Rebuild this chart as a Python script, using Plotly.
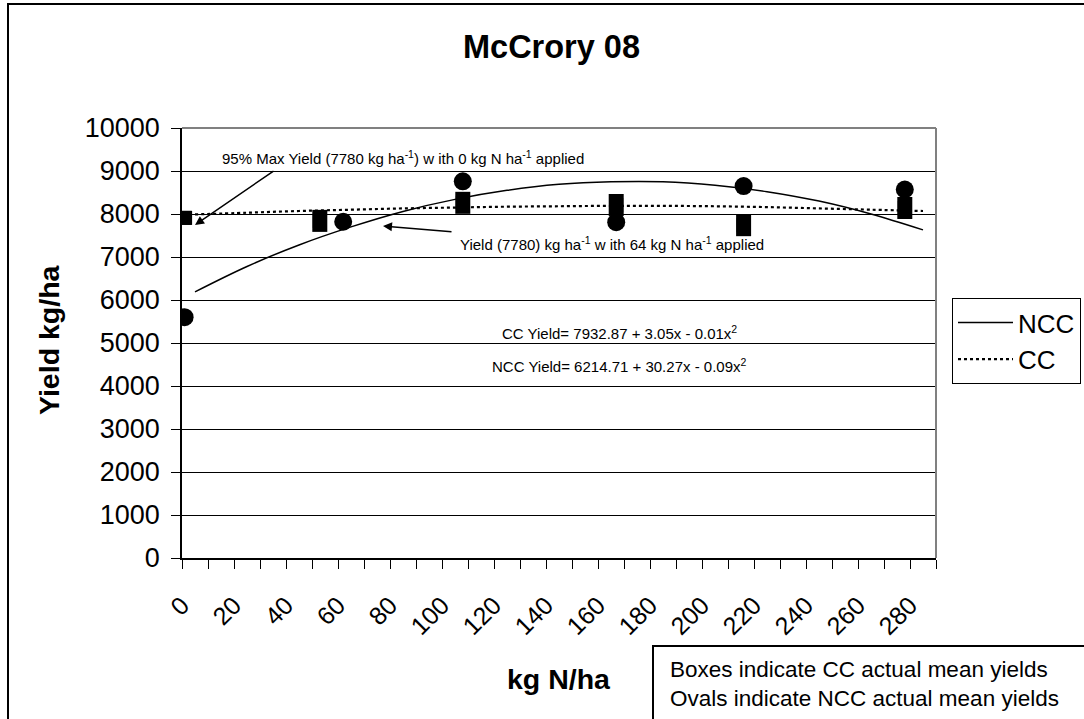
import plotly.graph_objects as go

# ---------------- data ----------------
cc_rate = [1, 53, 108, 167, 216, 278]            # kg N/ha (boxes)
cc_yield = [7910, 7840, 8260, 8210, 7740, 8140]
ncc_rate = [1, 62, 108, 167, 216, 278]           # kg N/ha (ovals)
ncc_yield = [5600, 7820, 8760, 7810, 8650, 8570]

curve_x = [5, 25, 45, 65, 85, 105, 125, 145, 165, 185, 205, 225, 245, 265, 285]
ncc_curve = [6190, 6780, 7280, 7700, 8060, 8340, 8550, 8690, 8750, 8750, 8670, 8520, 8300, 8000, 7630]
cc_curve = [7990, 8030, 8070, 8100, 8130, 8150, 8170, 8180, 8190, 8190, 8180, 8160, 8130, 8100, 8070]

x_tick_vals = list(range(0, 300, 10))
x_tick_text = ["0", "", "20", "", "40", "", "60", "", "80", "", "100", "", "120", "", "140", "",
               "160", "", "180", "", "200", "", "220", "", "240", "", "260", "", "280", ""]
y_tick_vals = [0, 1000, 2000, 3000, 4000, 5000, 6000, 7000, 8000, 9000, 10000]
y_tick_text = ["0", "1000", "2000", "3000", "4000", "5000", "6000", "7000", "8000", "9000", "10000"]

# ---------------- layout geometry (pixels) ----------------
W, H = 1084, 719
L, R, T, B = 182, 936, 128, 558
X_MAX, Y_MAX = 290, 10000
FONT = "Arial, Liberation Sans, sans-serif"
box_h_px = [14, 22, 22, 22, 22, 22]   # drawn height of each CC box marker (style)


def px(xp):
    return (xp - L) / (R - L)


def py(yp):
    return (B - yp) / (B - T)


def dx(xp):
    return px(xp) * X_MAX


def dy(yp):
    return py(yp) * Y_MAX


fig = go.Figure()

fig.add_trace(go.Scatter(x=curve_x, y=ncc_curve, mode="lines", name="NCC",
                         line=dict(color="black", width=1.5), line_shape="spline"))
fig.add_trace(go.Scatter(x=curve_x, y=cc_curve, mode="lines", name="CC",
                         line=dict(color="black", width=2.2, dash="dot"), line_shape="spline"))
fig.add_trace(go.Scatter(x=cc_rate, y=cc_yield, mode="markers", showlegend=False, name="CC mean",
                         marker=dict(symbol="square", size=14, color="black", line=dict(width=0))))
fig.add_trace(go.Scatter(x=ncc_rate, y=ncc_yield, mode="markers", showlegend=False, name="NCC mean",
                         marker=dict(symbol="circle", size=18, color="black", line=dict(width=0))))

fig.update_layout(
    width=W, height=H,
    margin=dict(l=L, r=W - R, t=T, b=H - B, pad=0, autoexpand=False),
    paper_bgcolor="white", plot_bgcolor="white",
    font=dict(family=FONT, color="black"),
    showlegend=True,
    legend=dict(x=px(952), y=py(298), xanchor="left", yanchor="top",
                bordercolor="black", borderwidth=1, bgcolor="white",
                font=dict(size=26, family=FONT, color="black"),
                itemwidth=55, tracegroupgap=0),
)

fig.update_xaxes(range=[0, X_MAX], tickvals=x_tick_vals, ticktext=x_tick_text, tickangle=-45,
                 ticks="outside", ticklen=9, tickcolor="black", tickwidth=1,
                 showline=True, linecolor="black", linewidth=1.5, mirror=False,
                 showgrid=False, zeroline=False, ticklabelstandoff=12, automargin=False,
                 tickfont=dict(size=25, family=FONT, color="black"))
fig.update_yaxes(range=[0, Y_MAX], tickvals=y_tick_vals, ticktext=y_tick_text,
                 ticks="outside", ticklen=9, tickcolor="black", tickwidth=1,
                 showline=True, linecolor="black", linewidth=1.5,
                 showgrid=True, gridcolor="black", gridwidth=1, zeroline=False,
                 ticklabelstandoff=6, automargin=False,
                 tickfont=dict(size=27, family=FONT, color="black"))

shapes = [
    # outer chart border
    dict(type="rect", xref="paper", yref="paper", x0=px(8), x1=px(1095), y0=py(4), y1=py(730),
         line=dict(color="black", width=2), layer="below"),
    # plot area top/right border
    dict(type="line", xref="paper", yref="paper", x0=0, x1=1, y0=1, y1=1,
         line=dict(color="#808080", width=2)),
    dict(type="line", xref="paper", yref="paper", x0=1, x1=1, y0=0, y1=1,
         line=dict(color="#808080", width=2)),
    # note box bottom right
    dict(type="rect", xref="paper", yref="paper", x0=px(653), x1=px(1095), y0=py(646), y1=py(730),
         line=dict(color="black", width=2), fillcolor="white"),
]
# CC box markers as pixel-sized rectangles anchored at each data point
for xv, yv, hp in zip(cc_rate, cc_yield, box_h_px):
    shapes.append(dict(type="rect", xref="x", yref="y", xsizemode="pixel", ysizemode="pixel",
                       xanchor=xv, yanchor=yv, x0=-7.5, x1=7.5, y0=-hp / 2, y1=hp / 2,
                       fillcolor="black", line=dict(width=0), layer="above"))
fig.update_layout(shapes=shapes)

A = dict(xref="paper", yref="paper", showarrow=False, xanchor="center", yanchor="middle")
ann = []
ann.append(dict(text="<b>McCrory 08</b>", x=px(551), y=py(47),
                font=dict(size=32.5, family=FONT, color="black"), **A))
ann.append(dict(text="<b>Yield kg/ha</b>", x=px(49), y=py(340), textangle=-90,
                font=dict(size=28.5, family=FONT, color="black"), **A))
ann.append(dict(text="<b>kg N/ha</b>", x=px(559), y=py(679),
                font=dict(size=28.5, family=FONT, color="black"), **A))
ann.append(dict(text="95% Max Yield (7780 kg ha<sup>-1</sup>) w ith 0 kg N ha<sup>-1</sup> applied",
                x=px(403), y=py(157), font=dict(size=15, family=FONT, color="black"), **A))
ann.append(dict(text="Yield (7780) kg ha<sup>-1</sup> w ith 64 kg N ha<sup>-1</sup> applied",
                x=px(612), y=py(243), font=dict(size=15, family=FONT, color="black"), **A))
ann.append(dict(text="CC Yield= 7932.87 + 3.05x - 0.01x<sup>2</sup>",
                x=px(619), y=py(332), font=dict(size=15, family=FONT, color="black"), **A))
ann.append(dict(text="NCC Yield= 6214.71 + 30.27x - 0.09x<sup>2</sup>",
                x=px(619), y=py(365), font=dict(size=15, family=FONT, color="black"), **A))
ann.append(dict(text="Boxes indicate CC actual mean yields<br>Ovals indicate NCC actual mean yields",
                x=px(668), y=py(655), xref="paper", yref="paper", xanchor="left", yanchor="top",
                align="left", showarrow=False, font=dict(size=22.5, family=FONT, color="black")))
# arrows (head at x/y, tail at ax/ay), in data coordinates
ann.append(dict(text="", x=dx(195), y=dy(225), xref="x", yref="y",
                ax=dx(275), ay=dy(170), axref="x", ayref="y",
                showarrow=True, arrowhead=2, arrowsize=1.2, arrowwidth=1.5, arrowcolor="black"))
ann.append(dict(text="", x=dx(383), y=dy(226), xref="x", yref="y",
                ax=dx(453), ay=dy(232), axref="x", ayref="y",
                showarrow=True, arrowhead=2, arrowsize=1.2, arrowwidth=1.5, arrowcolor="black"))
fig.update_layout(annotations=ann)

fig.write_html("out.html")
